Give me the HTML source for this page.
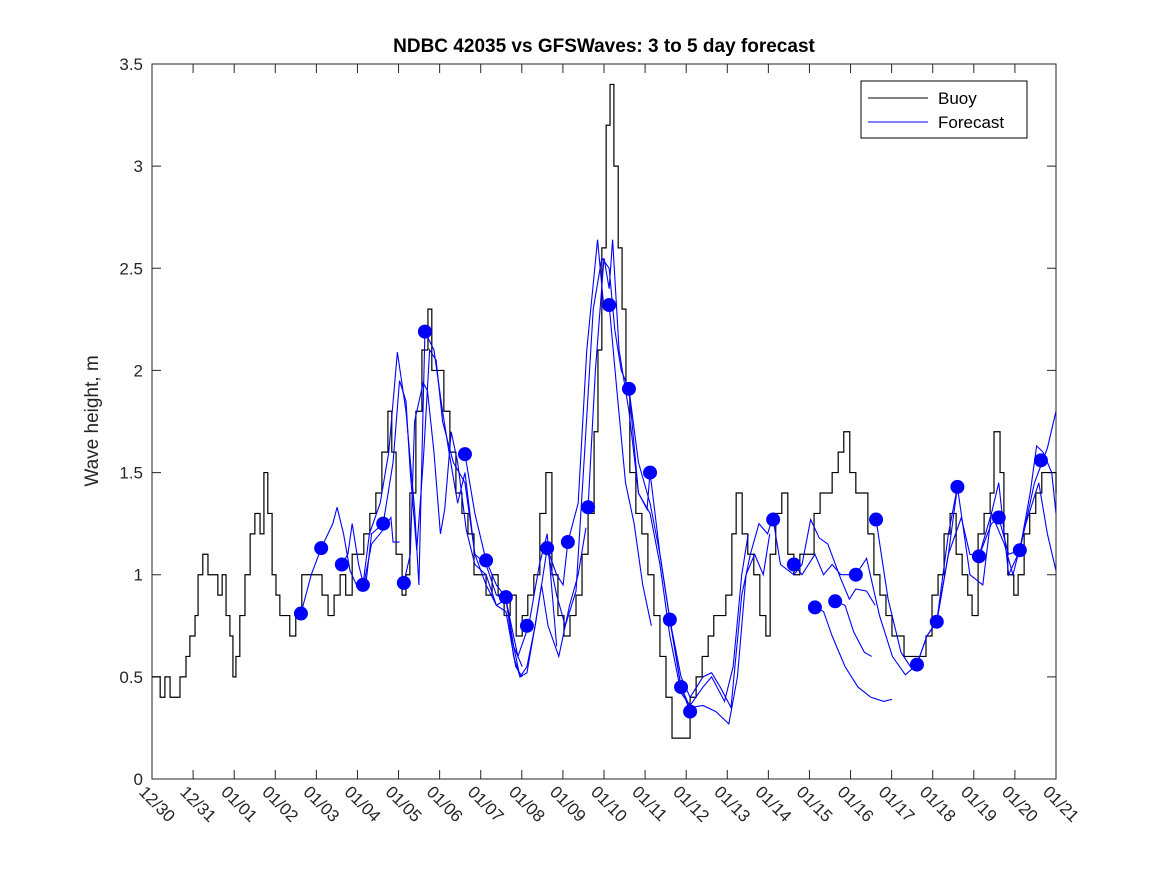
<!DOCTYPE html>
<html><head><meta charset="utf-8"><style>
html,body{margin:0;padding:0;background:#fff;}
svg{display:block;font-family:"Liberation Sans","DejaVu Sans",sans-serif;}
</style></head><body>
<svg id="chart" width="1167" height="875" viewBox="0 0 1167 875" xmlns="http://www.w3.org/2000/svg">
<rect width="1167" height="875" fill="#fff"/>
<text x="604" y="52" text-anchor="middle" font-size="19" font-weight="bold" fill="#000">NDBC 42035 vs GFSWaves: 3 to 5 day forecast</text>
<text transform="translate(98,421) rotate(-90)" text-anchor="middle" font-size="19" fill="#262626">Wave height, m</text>
<g id="axes"></g>
<g id="series"></g>
<g>
<rect x="861" y="81" width="166" height="57" fill="#fff" stroke="#000" stroke-width="1"/>
<line x1="868" y1="98" x2="928" y2="98" stroke="#000" stroke-width="1"/>
<text x="938" y="104" font-size="17">Buoy</text>
<line x1="868" y1="122" x2="928" y2="122" stroke="#00f" stroke-width="1"/>
<text x="938" y="128" font-size="17">Forecast</text>
</g>
</svg>
<script>
const xTickLabels=["12/30","12/31","01/01","01/02","01/03","01/04","01/05","01/06","01/07","01/08","01/09","01/10","01/11","01/12","01/13","01/14","01/15","01/16","01/17","01/18","01/19","01/20","01/21"];
const yTicks=[0,0.5,1,1.5,2,2.5,3,3.5];
const yTickLabels=["0","0.5","1","1.5","2","2.5","3","3.5"];
const buoyT=[0,0.19,0.3,0.42,0.6,0.65,0.79,0.88,1.0,1.07,1.18,1.3,1.44,1.53,1.63,1.72,1.81,1.88,1.95,2.04,2.16,2.28,2.39,2.51,2.6,2.69,2.79,2.88,2.97,3.07,3.2,3.34,3.48,3.67,3.86,3.95,4.09,4.23,4.37,4.5,4.65,4.79,4.92,5.06,5.2,5.34,5.48,5.57,5.67,5.81,5.9,5.99,6.13,6.27,6.41,6.5,6.64,6.78,6.92,7.06,7.2,7.34,7.48,7.62,7.76,7.9,8.04,8.18,8.32,8.46,8.6,8.73,8.87,9.01,9.15,9.29,9.43,9.57,9.71,9.85,9.99,10.13,10.27,10.36,10.45,10.55,10.64,10.73,10.83,10.92,11.01,11.1,11.24,11.38,11.52,11.66,11.8,11.94,12.08,12.4,12.5,12.64,12.78,12.92,13.05,13.19,13.33,13.47,13.57,13.71,13.84,13.98,14.12,14.26,14.36,14.49,14.63,14.77,14.91,15.05,15.24,15.38,15.52,15.66,15.8,15.94,16.07,16.21,16.35,16.49,16.63,16.77,16.91,17.05,17.19,17.33,17.47,17.65,17.84,17.98,18.12,18.26,18.4,18.54,18.68,18.82,18.95,19.05,19.19,19.33,19.47,19.56,19.7,19.79,19.88,20.02,20.12,20.26,20.39,20.53,20.67,20.86,21];
const buoyV=[0.5,0.4,0.5,0.4,0.4,0.5,0.6,0.7,0.8,1.0,1.1,1.0,1.0,0.9,1.0,0.8,0.7,0.5,0.6,0.8,1.0,1.2,1.3,1.2,1.5,1.3,1.0,0.9,0.8,0.8,0.7,0.8,1.0,1.0,1.0,0.9,0.8,0.9,1.0,0.9,1.1,1.1,1.2,1.3,1.4,1.6,1.8,1.6,1.1,0.9,1.0,1.4,1.8,2.1,2.3,2.0,2.0,1.8,1.6,1.4,1.3,1.2,1.0,1.0,0.9,1.0,0.9,0.8,0.9,0.7,0.8,0.9,1.0,1.3,1.5,1.0,0.8,0.7,0.8,0.9,1.1,1.3,1.7,2.1,2.6,3.2,3.4,3.0,2.6,2.3,1.9,1.5,1.3,1.2,1.0,0.8,0.6,0.4,0.2,0.2,0.4,0.5,0.6,0.7,0.8,0.8,0.9,1.2,1.4,1.2,1.1,1.0,0.8,0.7,1.1,1.3,1.4,1.1,1.0,1.1,1.1,1.3,1.4,1.4,1.5,1.6,1.7,1.5,1.4,1.4,1.2,1.0,0.9,0.8,0.7,0.7,0.6,0.6,0.6,0.7,0.9,1.0,1.2,1.3,1.1,1.0,0.9,0.8,1.2,1.3,1.4,1.7,1.5,1.2,1.0,0.9,1.0,1.2,1.3,1.4,1.5,1.5,1.4];
const dotT=[3.46,3.93,4.41,4.9,5.37,5.85,6.34,7.27,7.76,8.22,8.71,9.18,9.66,10.13,10.62,11.08,11.57,12.03,12.29,12.5,14.43,14.91,15.4,15.87,16.35,16.82,17.77,18.23,18.71,19.21,19.67,20.16,20.65];
const dotV=[0.81,1.13,1.05,0.95,1.25,0.96,2.19,1.59,1.07,0.89,0.75,1.13,1.16,1.33,2.32,1.91,1.50,0.78,0.45,0.33,1.27,1.05,0.84,0.87,1.00,1.27,0.56,0.77,1.43,1.09,1.28,1.12,1.56];
const fc1T=[3.46,3.7,3.93,4.2,4.3,4.45,4.6,4.75,4.9,5.1,5.37,5.55,5.6,5.75];
const fc1V=[0.81,1.0,1.13,1.25,1.33,1.2,1.02,0.95,0.93,1.15,1.22,1.28,1.16,1.16];
const fc2T=[4.41,4.55,4.65,4.8,4.95,5.1,5.37,5.6,5.75,5.9,6.0,6.15,6.3,6.45,6.6,6.75,7.0,7.27,7.5,7.76,8.0,8.22,8.45,8.6];
const fc2V=[1.05,1.1,1.25,1.05,0.92,1.2,1.25,1.55,1.95,1.85,1.5,1.12,1.55,2.1,2.05,1.75,1.55,1.45,1.1,0.95,0.85,0.82,0.55,0.5];
const fc3T=[4.9,5.05,5.3,5.5,5.7,5.9,6.1,6.2,6.34,6.55,6.75,6.9,7.1,7.27,7.5,7.76,8.0,8.22,8.4,8.6];
const fc3V=[0.95,1.2,1.35,1.6,2.09,1.8,1.32,0.95,2.19,2.1,1.8,1.6,1.35,1.5,1.1,1.05,0.9,0.88,0.65,0.55];
const fc4T=[5.85,6.0,6.1,6.3,6.4,6.55,6.7,6.8,6.95,7.1,7.3,7.5,7.76,8.0,8.22,8.5,8.75,9.0,9.18,9.4];
const fc4V=[0.96,1.1,1.75,1.94,1.9,1.6,1.2,1.32,1.7,1.55,1.22,1.05,1.0,0.85,0.88,0.6,0.75,1.05,1.2,0.65];
const fc5T=[7.27,7.5,7.76,8.0,8.22,8.4,8.55,8.71,8.9,9.05,9.18,9.4,9.55,9.66,9.9,10.1,10.35,10.5,10.62,10.8,11.0,11.2,11.4,11.6];
const fc5V=[1.59,1.3,1.07,0.95,0.89,0.65,0.5,0.52,0.75,0.95,1.13,1.0,0.95,1.16,1.35,2.1,2.64,2.3,2.32,1.9,1.45,1.25,0.95,0.75];
const fc6T=[8.22,8.4,8.55,8.71,8.9,9.05,9.2,9.45,9.7,9.9,10.08];
const fc6V=[0.89,0.6,0.5,0.55,0.75,0.95,0.75,0.6,0.85,1.0,1.23];
const fc7T=[9.18,9.4,9.6,9.85,10.05,10.25,10.45,10.62,10.75,10.9,11.08,11.3,11.5,11.57,11.8,12.03,12.29,12.5];
const fc7V=[1.13,0.9,0.75,0.92,1.6,2.3,2.55,2.5,2.2,2.0,1.91,1.4,1.32,1.5,1.1,0.78,0.45,0.33];
const fc8T=[10.13,10.3,10.5,10.62,10.7,10.85,11.08,11.3,11.57,11.8,12.03,12.29,12.5,12.8,13.0,13.3,13.5,13.7,13.85];
const fc8V=[1.33,2.0,2.55,2.4,2.64,2.1,1.8,1.4,1.3,1.05,0.7,0.42,0.36,0.45,0.5,0.38,0.55,1.0,1.2];
const fc9T=[11.08,11.3,11.57,11.8,12.03,12.29,12.5,12.8,13.1,13.4,13.6,13.8,14.0,14.2,14.35];
const fc9V=[1.91,1.55,1.35,1.1,0.78,0.45,0.35,0.36,0.33,0.27,0.5,1.0,1.1,1.0,1.2];
const fc10T=[12.03,12.29,12.5,12.8,13.0,13.2,13.45,13.7,13.9,14.1,14.3,14.45];
const fc10V=[0.78,0.5,0.4,0.5,0.52,0.45,0.35,0.9,1.1,1.25,1.2,1.3];
const fc11T=[14.43,14.6,14.91,15.1,15.3,15.5,15.7,16.0,16.2,16.35,16.6,16.8];
const fc11V=[1.27,1.05,1.0,1.05,1.27,1.18,1.15,0.98,0.88,0.93,0.92,0.85];
const fc12T=[14.91,15.1,15.4,15.6,15.8,16.0,16.35,16.6,16.9,17.2,17.5,17.77,18.0,18.23,18.5,18.71];
const fc12V=[1.05,1.0,1.1,1.0,1.05,1.0,1.0,1.08,0.8,0.6,0.51,0.56,0.7,0.77,1.1,1.43];
const fc13T=[15.4,15.6,15.8,16.1,16.4,16.7,17.0,17.19];
const fc13V=[0.84,0.82,0.7,0.55,0.45,0.4,0.38,0.39];
const fc14T=[15.87,16.1,16.3,16.55,16.72];
const fc14V=[0.87,0.85,0.72,0.62,0.6];
const fc15T=[16.82,17.1,17.4,17.65,17.77,18.0,18.23,18.5,18.8,19.0,19.21,19.5,19.67,19.9,20.16,20.4,20.55,20.7,20.9,21];
const fc15V=[1.27,0.88,0.62,0.54,0.56,0.7,0.77,1.1,1.28,1.1,1.09,1.25,1.28,1.1,1.12,1.4,1.63,1.6,1.5,1.3];
const fc16T=[18.23,18.5,18.71,19.0,19.3,19.5,19.67,19.9,20.16,20.5,20.8,21];
const fc16V=[0.77,1.2,1.43,1.0,0.95,1.3,1.45,1.0,1.12,1.45,1.62,1.8];
const fc17T=[19.21,19.5,19.8,20.0,20.3,20.6,20.8,21];
const fc17V=[1.09,1.3,1.15,1.0,1.25,1.45,1.2,1.02];

const L=152,R=1056,T=64,B=779,tMax=21,vMax=3.5;
function xs(t){return L+(R-L)*t/tMax;}
function ys(v){return B-(B-T)*v/vMax;}
const NS="http://www.w3.org/2000/svg";
const axes=document.getElementById('axes');
const ser=document.getElementById('series');
function mk(tag,attrs,parent){const e=document.createElementNS(NS,tag);for(const k in attrs)e.setAttribute(k,attrs[k]);parent.appendChild(e);return e;}

const frame=mk('rect',{x:L,y:T,width:R-L,height:B-T,fill:'none',stroke:'#262626','stroke-width':1},axes);


xTickLabels.forEach((lab,i)=>{
  const t=i*tMax/(xTickLabels.length-1);const x=xs(t);
  const tk=mk('path',{d:`M${x},${B}v-9M${x},${T}v9`,stroke:'#262626','stroke-width':1},axes);
  
  
  const tx=mk('text',{transform:`translate(${x-14},${B+14}) rotate(45)`,'font-size':17,fill:'#262626'},axes);
  tx.textContent=lab;
  
  
});
yTicks.forEach((v,i)=>{
  const y=ys(v);
  const tk=mk('path',{d:`M${L},${y}h9M${R},${y}h-9`,stroke:'#262626','stroke-width':1},axes);
  
  
  const tx=mk('text',{x:L-9,y:y+6,'text-anchor':'end','font-size':17,fill:'#262626'},axes);
  tx.textContent=yTickLabels[i];
  
  
});

// buoy as step line
let d='';
buoyT.forEach((t,i)=>{const x=xs(t),y=ys(buoyV[i]);if(i===0)d=`M${x},${y}`;else d+=`H${x}V${y}`;});
const bp=mk('path',{d:d,fill:'none',stroke:'#000','stroke-width':1.2},ser);



const fcs=[[fc1T,fc1V],[fc2T,fc2V],[fc3T,fc3V],[fc4T,fc4V],[fc5T,fc5V],[fc6T,fc6V],[fc7T,fc7V],[fc8T,fc8V],[fc9T,fc9V],[fc10T,fc10V],[fc11T,fc11V],[fc12T,fc12V],[fc13T,fc13V],[fc14T,fc14V],[fc15T,fc15V],[fc16T,fc16V],[fc17T,fc17V]];
fcs.forEach(([ts,vs])=>{
  const pts=ts.map((t,i)=>xs(t)+','+ys(vs[i])).join(' ');
  const pl=mk('polyline',{points:pts,fill:'none',stroke:'#00f','stroke-width':1.1},ser);
  
  
});
dotT.forEach((t,i)=>{
  const c=mk('circle',{cx:xs(t),cy:ys(dotV[i]),r:7,fill:'#00f'},ser);
  
  
});
</script>
</body></html>
